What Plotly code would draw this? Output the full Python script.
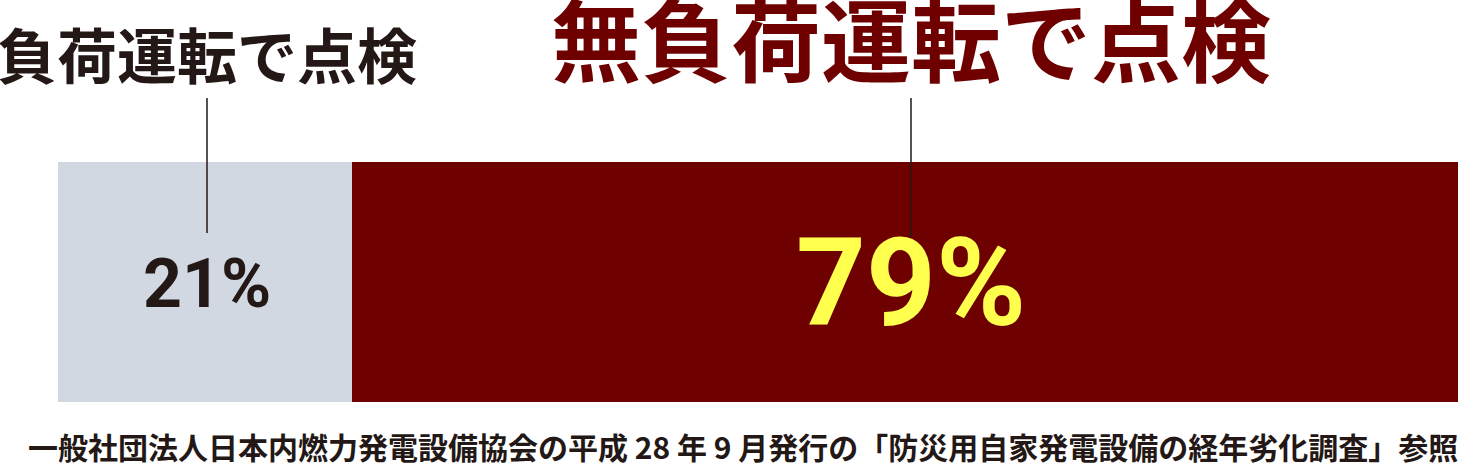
import plotly.graph_objects as go

# Daten
kategorien = ["負荷運転で点検", "無負荷運転で点検"]
anteile = [21, 79]
beschriftungen = ["21%", "79%"]
quelle = "一般社団法人日本内燃力発電設備協会の平成 28 年 9 月発行の「防災用自家発電設備の経年劣化調査」参照"

farben = ["#D1D8E2", "#6E0000"]
textfarben = ["#231815", "#FFFF4D"]
titelfarben = ["#231815", "#6E0000"]
titelgroessen = [60, 90]
prozentgroessen = [68, 122]
titel_y = [1.455, 1.525]
prozent_y = [0.49, 0.495]
linie_oben = [1.267, 1.267]
linie_unten = [0.704, 0.688]
verschiebung = [2, 6]  # Pixelversatz der Beschriftungen

FONT = "Noto Sans CJK JP"
ZAHLFONT = "Roboto, Noto Sans CJK JP"

fig = go.Figure()

# gestapelte Balken
for i, kat in enumerate(kategorien):
    fig.add_trace(go.Bar(
        x=[anteile[i]], y=[0], orientation="h", name=kat,
        marker=dict(color=farben[i], line=dict(width=0)),
        width=1, hoverinfo="skip", showlegend=False,
    ))

# Beschriftungen, Linien und Prozentwerte
start = 0
for i, kat in enumerate(kategorien):
    mitte = start + anteile[i] / 2
    fig.add_annotation(
        x=mitte, y=titel_y[i], xref="x", yref="paper", text=kat, showarrow=False,
        font=dict(family=FONT, size=titelgroessen[i], color=titelfarben[i], weight=700),
        xanchor="center", yanchor="middle", borderpad=0, xshift=verschiebung[i],
    )
    fig.add_shape(
        type="line", xref="x", yref="paper", xsizemode="pixel", xanchor=mitte,
        x0=verschiebung[i], x1=verschiebung[i], y0=linie_unten[i], y1=linie_oben[i],
        line=dict(color="#231815", width=1.5),
    )
    fig.add_annotation(
        x=mitte, y=prozent_y[i], xref="x", yref="paper", text=beschriftungen[i],
        showarrow=False,
        font=dict(family=ZAHLFONT, size=prozentgroessen[i], color=textfarben[i], weight=700),
        xanchor="center", yanchor="middle", xshift=verschiebung[i],
    )
    start += anteile[i]

# Quelle
fig.add_annotation(
    x=0.489, y=-0.182, xref="paper", yref="paper", text=quelle, showarrow=False,
    font=dict(family=FONT, size=30, color="#231815", weight=700),
    xanchor="center", yanchor="middle", borderpad=0,
)

fig.update_layout(
    barmode="stack",
    width=1458, height=465,
    margin=dict(l=58, r=0, t=162, b=63),
    paper_bgcolor="white", plot_bgcolor="white",
    xaxis=dict(range=[0, 100], visible=False, fixedrange=True),
    yaxis=dict(range=[-0.5, 0.5], visible=False, fixedrange=True),
)

# Seitenrand des Browsers entfernen
fig.write_html("out.html", config={"displayModeBar": False},
               post_script="document.body.style.margin='0';")
